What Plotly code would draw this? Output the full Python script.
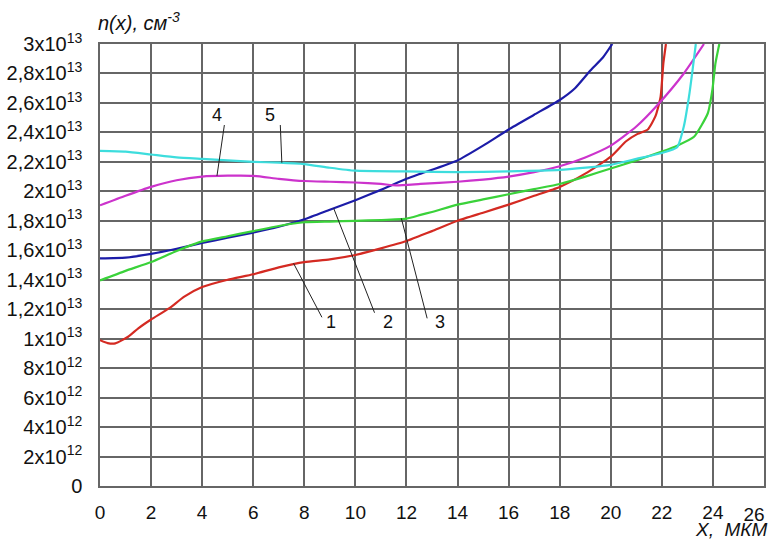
import plotly.graph_objects as go

# Concentration profiles n(x), cm^-3, versus depth x, um
x1 = [0, 0.3, 0.6, 1.1, 1.5, 2, 2.7, 3.3, 4, 5, 6, 7, 8, 9, 10, 11, 12, 12.55, 13, 14, 15, 16, 17, 18, 19, 20, 20.6, 21.05, 21.45, 21.75, 21.95, 22.06, 22.16]
y1 = [0.99e13, 0.97e13, 0.968e13, 1.013e13, 1.07e13, 1.13e13, 1.205e13, 1.285e13, 1.35e13, 1.40e13, 1.437e13, 1.484e13, 1.52e13, 1.538e13, 1.568e13, 1.613e13, 1.663e13, 1.70e13, 1.73e13, 1.80e13, 1.855e13, 1.91e13, 1.97e13, 2.03e13, 2.12e13, 2.235e13, 2.34e13, 2.39e13, 2.42e13, 2.51e13, 2.64e13, 2.87e13, 3.0e13]

x2 = [0, 1, 2, 3, 4, 5, 6, 7, 8, 9, 10, 11, 12, 12.55, 14, 15, 16, 17, 18, 18.6, 19.2, 19.7, 20.06]
y2 = [1.545e13, 1.55e13, 1.575e13, 1.61e13, 1.65e13, 1.685e13, 1.72e13, 1.76e13, 1.81e13, 1.875e13, 1.94e13, 2.01e13, 2.085e13, 2.12e13, 2.21e13, 2.31e13, 2.42e13, 2.52e13, 2.62e13, 2.70e13, 2.82e13, 2.91e13, 3.0e13]

x3 = [0, 1, 2, 3, 4, 5, 6, 7, 8, 9, 10, 11, 12, 12.55, 13, 14, 15, 16, 17, 18, 19, 20, 21, 22, 22.6, 23.26, 23.8, 23.98, 24.1, 24.25]
y3 = [1.395e13, 1.46e13, 1.52e13, 1.595e13, 1.66e13, 1.695e13, 1.73e13, 1.765e13, 1.79e13, 1.795e13, 1.80e13, 1.805e13, 1.815e13, 1.84e13, 1.86e13, 1.91e13, 1.945e13, 1.98e13, 2.015e13, 2.05e13, 2.10e13, 2.155e13, 2.21e13, 2.27e13, 2.31e13, 2.37e13, 2.53e13, 2.69e13, 2.87e13, 3.0e13]

x4 = [0, 1, 2, 3, 4, 5, 6, 7, 8, 9, 10, 11, 11.6, 12.55, 14, 15, 16, 17, 18, 19, 20, 21, 21.83, 22.86, 23.65]
y4 = [1.905e13, 1.97e13, 2.03e13, 2.075e13, 2.10e13, 2.106e13, 2.105e13, 2.085e13, 2.07e13, 2.065e13, 2.06e13, 2.05e13, 2.04e13, 2.05e13, 2.065e13, 2.08e13, 2.10e13, 2.13e13, 2.17e13, 2.23e13, 2.31e13, 2.44e13, 2.586e13, 2.80e13, 3.0e13]

x5 = [0, 1, 2, 3, 4, 5, 6, 7, 8, 9, 10, 12, 14, 16, 18, 20, 21, 22, 22.6, 22.86, 23.06, 23.2, 23.33]
y5 = [2.275e13, 2.27e13, 2.25e13, 2.23e13, 2.22e13, 2.21e13, 2.20e13, 2.195e13, 2.185e13, 2.16e13, 2.14e13, 2.135e13, 2.13e13, 2.135e13, 2.145e13, 2.18e13, 2.22e13, 2.26e13, 2.30e13, 2.44e13, 2.64e13, 2.82e13, 3.0e13]

curve_names = ["1", "2", "3", "4", "5"]
curve_colors = ["#d42a22", "#1c1ca8", "#3ad23a", "#cc33cc", "#3ddddd"]

# Leader lines: label position, then the segment from near the label to the curve
label_x = [9.05, 11.27, 13.33, 4.58, 6.67]
label_y = [1.115e13, 1.115e13, 1.115e13, 2.518e13, 2.518e13]
lead_x0 = [8.69, 10.75, 12.81, 4.87, 7.06]
lead_y0 = [1.145e13, 1.176e13, 1.138e13, 2.45e13, 2.45e13]
lead_x1 = [7.58, 9.15, 11.8, 4.58, 7.12]
lead_y1 = [1.511e13, 1.885e13, 1.817e13, 2.105e13, 2.194e13]

y_tickvals = [i * 2e12 for i in range(16)]
y_ticktext = ["0", "2x10<sup>12</sup>", "4x10<sup>12</sup>", "6x10<sup>12</sup>", "8x10<sup>12</sup>",
              "1x10<sup>13</sup>", "1,2x10<sup>13</sup>", "1,4x10<sup>13</sup>", "1,6x10<sup>13</sup>",
              "1,8x10<sup>13</sup>", "2x10<sup>13</sup>", "2,2x10<sup>13</sup>", "2,4x10<sup>13</sup>",
              "2,6x10<sup>13</sup>", "2,8x10<sup>13</sup>", "3x10<sup>13</sup>"]
x_tickvals = list(range(0, 27, 2))
x_ticktext = [str(v) for v in x_tickvals]

FONT = "Liberation Sans, Arial, sans-serif"
XTICK_SIZE = 19
YTICK_SIZE = 20

fig = go.Figure()

for xs, ys, name, col in zip([x1, x2, x3, x4, x5], [y1, y2, y3, y4, y5], curve_names, curve_colors):
    fig.add_trace(go.Scatter(x=xs, y=ys, mode="lines", name=name,
                             line=dict(color=col, width=2.2, shape="spline", smoothing=0.5),
                             showlegend=False, hoverinfo="skip"))

for i in range(len(curve_names)):
    fig.add_trace(go.Scatter(x=[lead_x0[i], lead_x1[i]], y=[lead_y0[i], lead_y1[i]], mode="lines",
                             line=dict(color="#222222", width=1), showlegend=False, hoverinfo="skip"))
    fig.add_annotation(x=label_x[i], y=label_y[i], text=curve_names[i], showarrow=False,
                       font=dict(family=FONT, size=18, color="#111111"))

# empty trace so the overlay x axis (carrying the last tick label) gets drawn
fig.add_trace(go.Scatter(x=[], y=[], xaxis="x2", yaxis="y", mode="lines",
                         showlegend=False, hoverinfo="skip"))

fig.add_annotation(xref="paper", yref="paper", x=-0.006, y=1.0, yshift=8,
                   xanchor="left", yanchor="bottom",
                   text="<i>n(x), см<sup>-3</sup></i>", showarrow=False,
                   font=dict(family=FONT, size=20, color="#111111"))
fig.add_annotation(xref="paper", yref="paper", x=1.009, y=0, yshift=-31,
                   xanchor="right", yanchor="top",
                   text="<i>X,  МКМ</i>", showarrow=False,
                   font=dict(family=FONT, size=19, color="#111111"))

axis_common = dict(zeroline=False, ticks="", ticklabeloverflow="allow")
grid_style = dict(showgrid=True, gridcolor="#666666", gridwidth=1.5,
                  showline=True, linecolor="#666666", linewidth=1.5, mirror=True)

fig.update_layout(
    width=773, height=541, margin=dict(l=100, r=9, t=44, b=55, autoexpand=False),
    paper_bgcolor="white", plot_bgcolor="white",
    font=dict(family=FONT, size=XTICK_SIZE, color="#111111"),
    # main x axis: grid and labels 0..24; the 26 label sits on an overlay axis shifted inward
    xaxis=dict(range=[0, 26], tickvals=x_tickvals[:-1], ticktext=x_ticktext[:-1], ticklabelstandoff=8,
               tickfont=dict(family=FONT, size=XTICK_SIZE, color="#111111"), **grid_style, **axis_common),
    xaxis2=dict(range=[0, 26], overlaying="x", anchor="y", side="bottom",
                tickvals=x_tickvals[-1:], ticktext=x_ticktext[-1:], ticklabelshift=-10, ticklabelstandoff=15,
                showgrid=False, showline=False,
                tickfont=dict(family=FONT, size=XTICK_SIZE, color="#111111"), **axis_common),
    yaxis=dict(range=[0, 3e13], tickvals=y_tickvals, ticktext=y_ticktext, ticklabelstandoff=12,
               tickfont=dict(family=FONT, size=YTICK_SIZE, color="#111111"), **grid_style, **axis_common),
)

fig.write_html("out.html")
